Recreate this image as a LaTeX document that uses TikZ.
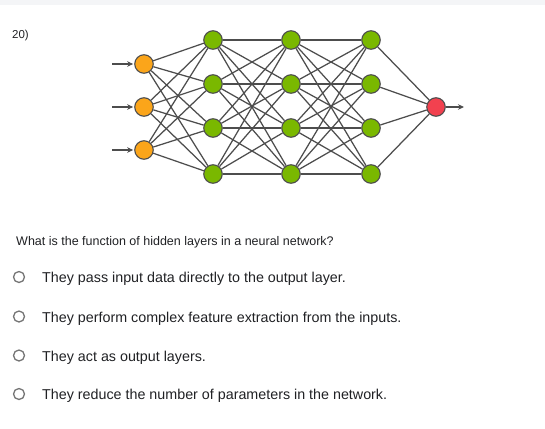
\documentclass[tikz,border=0pt]{standalone}
\usepackage{fontspec}
\setmainfont{Liberation Sans}
\usetikzlibrary{arrows.meta}
\definecolor{inorange}{HTML}{FBA51A}
\definecolor{hidgreen}{HTML}{7AB800}
\definecolor{outred}{HTML}{F2414F}
\definecolor{edgegray}{HTML}{4D4D4D}
\definecolor{bandgray}{HTML}{F4F5F7}
\definecolor{radiogray}{HTML}{757575}
\definecolor{textgray}{HTML}{202124}
\tikzset{
  neuron/.style={circle,draw=edgegray,line width=1.1pt,minimum size=18.5pt,inner sep=0pt},
  link/.style={draw=edgegray,line width=1.25pt},
  arrowlink/.style={link,line width=1.5pt,-{Stealth[length=6pt,width=5.5pt]}},
  radio/.style={circle,draw=radiogray,line width=1.3pt,minimum size=11pt,inner sep=0pt},
  answer/.style={anchor=base west,inner sep=0pt,text=textgray,font=\fontsize{14.3}{17}\selectfont}
}
\begin{document}
\begin{tikzpicture}[x=1pt,y=-1pt]
\useasboundingbox (0,0) rectangle (545,428);
\fill[bandgray] (0,0) rectangle (545,5);
\node[anchor=base west,inner sep=0pt,text=textgray,font=\fontsize{11.5}{13}\selectfont] (num) at (12,38) {20)};
% layers
\foreach \y [count=\i] in {64,107,150}
  \node[neuron,fill=inorange] (in\i) at (144,\y) {};
\foreach \x [count=\l] in {213,291,371}
  \foreach \y [count=\i] in {40,84,128,174}
    \node[neuron,fill=hidgreen] (h\l-\i) at (\x,\y) {};
\node[neuron,fill=outred] (out) at (436,107) {};
% connections
\foreach \i in {1,2,3}
  \foreach \j in {1,...,4}
    \draw[link] (in\i) -- (h1-\j);
\foreach \l/\m in {1/2,2/3}
  \foreach \i in {1,...,4}
    \foreach \j in {1,...,4}
      \draw[link] (h\l-\i) -- (h\m-\j);
\foreach \j in {1,...,4}
  \draw[link] (h3-\j) -- (out);
% input and output arrows
\foreach \y [count=\i] in {64,107,150}{
  \coordinate (src\i) at (112,\y);
  \draw[arrowlink,shorten >=1pt] (src\i) -- (in\i);
}
\coordinate (sink) at (464,107);
\draw[arrowlink,line width=1.25pt] (out) -- (sink);
% question
\node[anchor=base west,inner sep=0pt,text=textgray,font=\fontsize{12.5}{15}\selectfont] (question) at (16,245.5)
  {What is the function of hidden layers in a neural network?};
\foreach \y/\txt [count=\i] in {277/{They pass input data directly to the output layer.},
    316.5/{They perform complex feature extraction from the inputs.},
    355.5/{They act as output layers.},
    394/{They reduce the number of parameters in the network.}}{
  \node[radio] (r\i) at (19,\y) {};
  \node[answer] (a\i) at (42,\y+5.5) {\txt};
}
\end{tikzpicture}
\end{document}
